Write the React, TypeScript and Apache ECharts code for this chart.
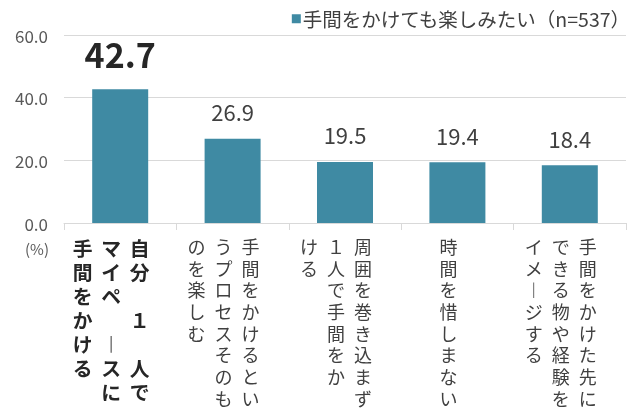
import React, { useEffect, useRef } from "react";
import * as echarts from "echarts";

const seriesName = "手間をかけても楽しみたい（n=537）";
const categories = [
  "自分１人でマイペースに手間をかける",
  "手間をかけるというプロセスそのものを楽しむ",
  "周囲を巻き込まず１人で手間をかける",
  "時間を惜しまない",
  "手間をかけた先にできる物や経験をイメージする",
];
const values = [42.7, 26.9, 19.5, 19.4, 18.4];
const yTicks = [0, 20, 40, 60];
const unitLabel = "(%)";

// vertical writing: columns in reading order (right to left)
const verticalColumns = [
  ["自分　１　人で", "マイペ　ースに", "手間をかける"],
  ["手間をかけるとい", "うプロセスそのも", "のを楽しむ"],
  ["周囲を巻き込まず", "１人で手間をか", "ける"],
  ["時間を惜しまない"],
  ["手間をかけた先に", "できる物や経験を", "イメージする"],
];

const FONT = '"Noto Sans CJK JP", "Noto Sans", sans-serif';

function buildVertical(index: number): string {
  const cols = verticalColumns[index].map((c) => Array.from(c.replace(/ー/g, "︱")));
  const visual = [...cols].reverse();
  const rows = Math.max(...visual.map((c) => c.length));
  const style = index === 0 ? "b" : "n";
  const lines: string[] = [];
  for (let r = 0; r < rows; r++) {
    lines.push(visual.map((c) => `{${style}|${c[r] ?? "　"}}`).join(""));
  }
  return lines.join("\n");
}

export default function App() {
  const ref = useRef<HTMLDivElement>(null);
  useEffect(() => {
    if (!ref.current) return;
    const chart = echarts.init(ref.current, undefined, { renderer: "svg" });
    chart.setOption({
      animation: false,
      textStyle: { fontFamily: FONT },
      legend: {
        data: [seriesName],
        right: 4,
        top: 4,
        icon: "rect",
        itemWidth: 9,
        itemHeight: 9,
        itemGap: 4,
        textStyle: { fontSize: 19.5, color: "#404040", fontFamily: FONT, padding: [0, 0, 0, -3] },
      },
      grid: { left: 64, right: 14, top: 35, bottom: 188, containLabel: false },
      xAxis: {
        type: "category",
        data: categories,
        axisLine: { lineStyle: { color: "#d9d9d9", width: 1 } },
        axisTick: { show: true, length: 7, lineStyle: { color: "#d9d9d9" } },
        axisLabel: {
          interval: 0,
          margin: 12,
          padding: [0, 18, 0, 0],
          formatter: (_v: string, i: number) => buildVertical(i),
          rich: {
            n: {
              fontSize: 18,
              lineHeight: 21.7,
              width: 27,
              align: "center",
              color: "#404040",
              fontFamily: FONT,
            },
            b: {
              fontSize: 19.8,
              fontWeight: "bold",
              lineHeight: 24,
              width: 28.5,
              align: "center",
              color: "#262626",
              fontFamily: FONT,
            },
          },
        },
      },
      yAxis: {
        type: "value",
        min: yTicks[0],
        max: yTicks[yTicks.length - 1],
        interval: 20,
        axisLine: { show: false },
        axisTick: { show: false },
        axisLabel: {
          formatter: (v: number) => v.toFixed(1),
          fontSize: 17,
          color: "#595959",
          margin: 16,
          fontFamily: FONT,
        },
        splitLine: { lineStyle: { color: "#d9d9d9", width: 1 } },
      },
      graphic: [
        {
          type: "text",
          left: 25,
          top: 241,
          style: { text: unitLabel, fontSize: 15, fill: "#595959", fontFamily: FONT },
        },
      ],
      series: [
        {
          name: seriesName,
          type: "bar",
          barWidth: 56,
          itemStyle: { color: "#3f8aa3" },
          data: values.map((v, i) =>
            i === 0
              ? {
                  value: v,
                  label: {
                    fontSize: 34,
                    fontWeight: "bold",
                    color: "#262626",
                    distance: 19,
                  },
                }
              : v
          ),
          label: {
            show: true,
            position: "top",
            distance: 16.5,
            fontSize: 22,
            color: "#404040",
            fontFamily: FONT,
            formatter: (p: any) => Number(p.value).toFixed(1),
          },
        },
      ],
    });
    return () => chart.dispose();
  }, []);
  return (
    <div
      ref={ref}
      style={{ position: "fixed", left: 0, top: 0, width: 640, height: 411 }}
    />
  );
}
